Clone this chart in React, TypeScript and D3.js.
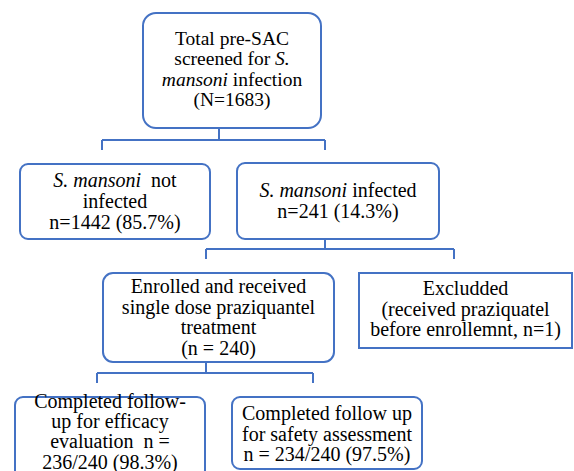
import React, { useRef, useEffect } from "react";
import * as d3 from "d3";

// node text, italic parts wrapped in underscores
const totalLines = ["Total pre-SAC", "screened for _S._", "_mansoni_ infection", "(N=1683)"];
const notInfectedLines = ["_S. mansoni_  not", "infected", "n=1442 (85.7%)"];
const infectedLines = ["_S. mansoni_ infected", "n=241 (14.3%)"];
const enrolledLines = ["Enrolled and received", "single dose praziquantel", "treatment", "(n = 240)"];
const excludedLines = ["Excludded", "(received praziquatel", "before enrollemnt, n=1)"];
const efficacyLines = ["Completed follow-", "up for efficacy", "evaluation  n =", "236/240 (98.3%)"];
const safetyLines = ["Completed follow up", "for safety assessment", "n = 234/240 (97.5%)"];

// layout: [x0, y0, x1, y1, corner radius, first baseline, line step, font size]
const layout: Record<string, number[]> = {
  total: [143, 13, 321, 128, 13, 45, 20.4, 19.5],
  notInfected: [20, 164, 210, 239, 8, 187, 21, 20],
  infected: [237, 163, 439, 239, 8, 197, 21, 20],
  enrolled: [103, 273, 334, 362, 10, 293, 20.5, 20],
  excluded: [359, 273, 572, 348, 0, 295, 20.5, 20],
  efficacy: [15, 397, 205, 478, 8, 408, 20.2, 20],
  safety: [232, 397, 422, 469, 8, 420, 20.5, 20],
};

const nodes = [
  { id: "total", lines: totalLines },
  { id: "notInfected", lines: notInfectedLines },
  { id: "infected", lines: infectedLines },
  { id: "enrolled", lines: enrolledLines },
  { id: "excluded", lines: excludedLines },
  { id: "efficacy", lines: efficacyLines },
  { id: "safety", lines: safetyLines },
];

// elbow connectors: parent stem x, stem top y, bar y, child xs, child drop y
const connectors = [
  { x: 219, y0: 128, bar: 140, kids: [102, 325], y1: 150 },
  { x: 325, y0: 239, bar: 249, kids: [206, 454], y1: 259 },
  { x: 206, y0: 362, bar: 373, kids: [97, 313], y1: 383 },
];

const BLUE = "#4472C4";

const App = () => {
  const ref = useRef<SVGSVGElement>(null);

  useEffect(() => {
    const svg = d3.select(ref.current);
    svg.selectAll("*").remove();

    const line = d3.line();

    connectors.forEach((c) => {
      const g = svg.append("g").attr("fill", "none").attr("stroke", BLUE).attr("stroke-width", 2);
      g.append("path").attr("d", line([[c.x, c.y0], [c.x, c.bar]]));
      g.append("path").attr("d", line([[d3.min(c.kids)!, c.bar], [d3.max(c.kids)!, c.bar]]));
      c.kids.forEach((k) => {
        g.append("path").attr("d", line([[k, c.bar], [k, c.y1]]));
      });
    });

    nodes.forEach((n) => {
      const [x0, y0, x1, y1, r, base, step, fs] = layout[n.id];
      svg
        .append("rect")
        .attr("x", x0)
        .attr("y", y0)
        .attr("width", x1 - x0)
        .attr("height", y1 - y0)
        .attr("rx", r)
        .attr("fill", "#fff")
        .attr("stroke", BLUE)
        .attr("stroke-width", 2);

      const text = svg
        .append("text")
        .attr("text-anchor", "middle")
        .attr("font-family", "Liberation Serif, DejaVu Serif, serif")
        .attr("font-size", fs)
        .attr("fill", "#000");

      n.lines.forEach((ln, i) => {
        const t = text.append("tspan").attr("x", (x0 + x1) / 2).attr("y", base + i * step);
        ln.split("_").forEach((part, j) => {
          if (!part) return;
          t.append("tspan")
            .attr("font-style", j % 2 === 1 ? "italic" : "normal")
            .attr("xml:space", "preserve")
            .text(part);
        });
      });
    });
  }, []);

  return (
    <svg
      ref={ref}
      width={574}
      height={471}
      style={{ position: "absolute", left: 0, top: 0, background: "#fff" }}
    />
  );
};

export default App;
